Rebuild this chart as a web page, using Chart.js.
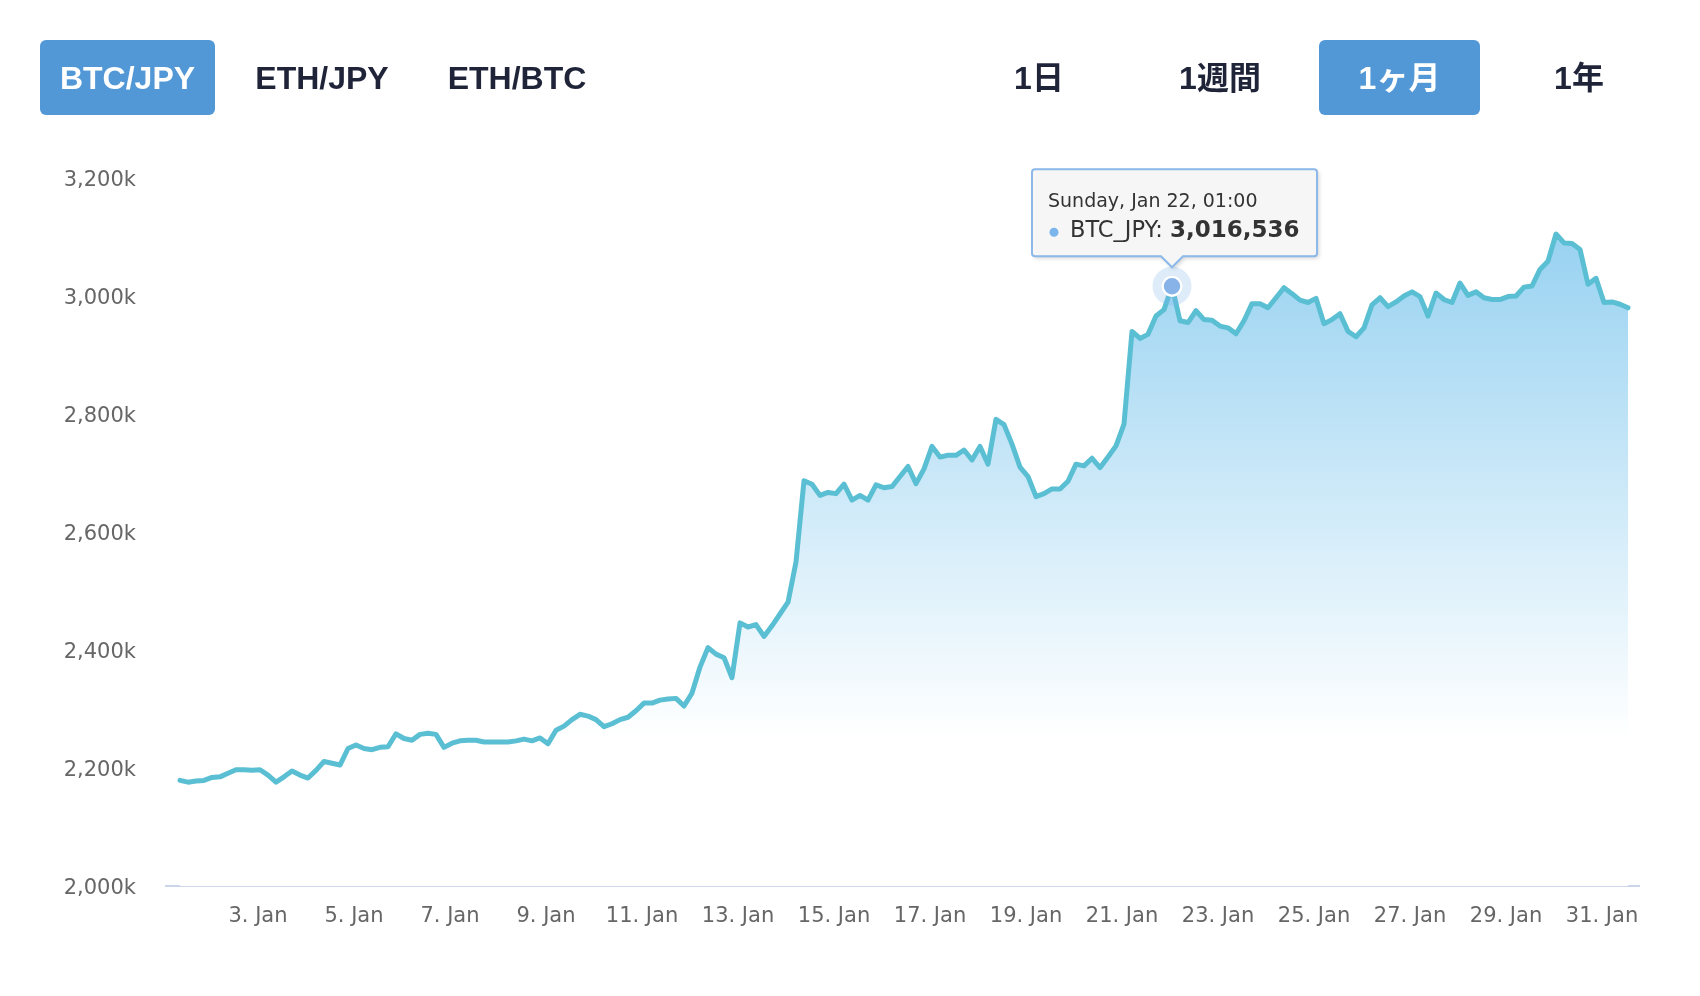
<!DOCTYPE html>
<html>
<head>
<meta charset="utf-8">
<title>BTC/JPY 1ヶ月</title>
<script src="https://cdn.jsdelivr.net/npm/chart.js@4.4.1/dist/chart.umd.min.js"></script>
<style>
  html, body { margin: 0; padding: 0; background: #fff; }
  body { width: 1700px; height: 996px; position: relative; overflow: hidden; }
  #priceChart { position: absolute; left: 0; top: 0; }
  .btn {
    position: absolute; top: 40px; height: 75px; width: 160px;
    display: flex; align-items: center; justify-content: center;
    color: #1f2438; border-radius: 6px;
    font: bold 32px "Liberation Sans", "Noto Sans CJK JP", sans-serif;
  }
  .btn span { position: relative; top: 1px; }
  .btn span.ja { top: -3px; }
  .btn.active { background: #5298d6; color: #fff; }
</style>
</head>
<body>
<canvas id="priceChart" width="1700" height="996"></canvas>

<div class="btn active" style="left:40px;width:175px"><span>BTC/JPY</span></div>
<div class="btn" style="left:242px"><span>ETH/JPY</span></div>
<div class="btn" style="left:437px"><span>ETH/BTC</span></div>
<div class="btn" style="left:959px"><span class="ja">1日</span></div>
<div class="btn" style="left:1140px"><span class="ja">1週間</span></div>
<div class="btn active" style="left:1319px;width:161px"><span class="ja">1ヶ月</span></div>
<div class="btn" style="left:1499px"><span class="ja">1年</span></div>

<script>
// BTC/JPY, one sample every 4 hours starting Jan 1 09:00 (values in thousand yen)
const seriesName = 'BTC_JPY';
const startHour = 9;
const stepHours = 4;
const btcJpy = [
    2179, 2176, 2178, 2179, 2184, 2185, 2191, 2197, 2197, 2196,
    2197, 2188, 2176, 2185, 2195, 2188, 2183, 2196, 2211, 2208,
    2205, 2233, 2239, 2233, 2231, 2235, 2236, 2258, 2250, 2247,
    2257, 2259, 2257, 2235, 2242, 2246, 2247, 2247, 2244, 2244,
    2244, 2244, 2246, 2249, 2246, 2251, 2241, 2264, 2271, 2282,
    2291, 2288, 2282, 2270, 2275, 2282, 2286, 2297, 2310, 2310,
    2315, 2317, 2318, 2305, 2327, 2371, 2404, 2393, 2387, 2353,
    2446, 2439, 2443, 2423, 2441, 2461, 2481, 2549, 2687, 2681,
    2662, 2667, 2665, 2681, 2654, 2662, 2654, 2680, 2675, 2677,
    2694, 2711, 2682, 2707, 2745, 2727, 2730, 2730, 2739, 2722,
    2745, 2715, 2791, 2782, 2749, 2710, 2694, 2660, 2665, 2673,
    2673, 2686, 2715, 2712, 2725, 2709, 2727, 2746, 2783, 2940,
    2928, 2935, 2966, 2977, 3016.536, 2958, 2955, 2975, 2960, 2959,
    2949, 2946, 2936, 2958, 2987, 2987, 2980, 2997, 3014, 3004,
    2993, 2989, 2996, 2953, 2960, 2970, 2940, 2931, 2946, 2985,
    2997, 2982, 2990, 3000, 3007, 2999, 2966, 3005, 2994, 2989,
    3022, 3001, 3007, 2997, 2994, 2994, 2999, 3000, 3015, 3017,
    3045, 3059, 3105, 3090, 3089, 3079, 3020, 3030, 2989, 2990,
    2986, 2980
];

// x axis ticks: hours since Jan 1 00:00
const tickHours = [48, 96, 144, 192, 240, 288, 336, 384, 432, 480, 528, 576, 624, 672, 720];
const tickLabels = ['3. Jan', '5. Jan', '7. Jan', '9. Jan', '11. Jan', '13. Jan', '15. Jan', '17. Jan',
    '19. Jan', '21. Jan', '23. Jan', '25. Jan', '27. Jan', '29. Jan', '31. Jan'];

// hovered point shown in the tooltip
const tipIndex = 124;
const tipTitle = 'Sunday, Jan 22, 01:00';

const axisFont = { family: 'DejaVu Sans', size: 21 };

function areaGradient(context) {
    const { chart } = context;
    const { ctx, chartArea, scales } = chart;
    if (!chartArea) return null;
    const top = scales.y.getPixelForValue(Math.max(...btcJpy));
    const bottom = scales.y.getPixelForValue(2250);
    const g = ctx.createLinearGradient(0, top, 0, bottom);
    g.addColorStop(0, 'rgb(152,210,241)');
    g.addColorStop(1, 'rgb(255,255,255)');
    return g;
}

// Draws the halo around the hovered point and the fixed tooltip box
const fixedTooltip = {
    id: 'fixedTooltip',
    afterDatasetsDraw(chart) {
        const pt = chart.getDatasetMeta(0).data[tipIndex];
        const ctx = chart.ctx;
        ctx.save();
        ctx.beginPath();
        ctx.arc(pt.x, pt.y, 15, 0, Math.PI * 2);
        ctx.lineWidth = 9;
        ctx.strokeStyle = 'rgba(124,181,236,0.25)';
        ctx.stroke();
        ctx.restore();
    },
    afterDraw(chart) {
        const pt = chart.getDatasetMeta(0).data[tipIndex];
        const ctx = chart.ctx;
        const w = 285, h = 87, r = 3;
        const left = pt.x - 140, top = pt.y - 117;
        const bottom = top + h, right = left + w;
        const tipY = pt.y - 19;

        ctx.save();
        ctx.beginPath();
        ctx.moveTo(left + r, top);
        ctx.lineTo(right - r, top);
        ctx.quadraticCurveTo(right, top, right, top + r);
        ctx.lineTo(right, bottom - r);
        ctx.quadraticCurveTo(right, bottom, right - r, bottom);
        ctx.lineTo(pt.x + 11, bottom);
        ctx.lineTo(pt.x, tipY);
        ctx.lineTo(pt.x - 11, bottom);
        ctx.lineTo(left + r, bottom);
        ctx.quadraticCurveTo(left, bottom, left, bottom - r);
        ctx.lineTo(left, top + r);
        ctx.quadraticCurveTo(left, top, left + r, top);
        ctx.closePath();

        ctx.shadowColor = 'rgba(0,0,0,0.18)';
        ctx.shadowBlur = 4;
        ctx.shadowOffsetX = 2;
        ctx.shadowOffsetY = 2;
        ctx.fillStyle = 'rgba(247,247,247,0.97)';
        ctx.fill();
        ctx.shadowColor = 'transparent';
        ctx.lineWidth = 2;
        ctx.strokeStyle = '#8cb8ea';
        ctx.stroke();

        ctx.textBaseline = 'middle';
        ctx.fillStyle = '#333';
        ctx.font = '19px "DejaVu Sans"';
        ctx.fillText(tipTitle, left + 16, top + 33);

        const y2 = top + 62;
        ctx.beginPath();
        ctx.arc(left + 22, y2 + 1, 4.5, 0, Math.PI * 2);
        ctx.fillStyle = '#7cb5ec';
        ctx.fill();

        ctx.fillStyle = '#333';
        ctx.font = '22.5px "DejaVu Sans"';
        const label = seriesName + ': ';
        ctx.fillText(label, left + 38, y2);
        const lw = ctx.measureText(label).width;
        ctx.font = 'bold 23px "DejaVu Sans"';
        const value = Math.round(btcJpy[tipIndex] * 1000).toLocaleString('en-US');
        ctx.fillText(value, left + 38 + lw, y2);
        ctx.restore();
    }
};

document.addEventListener('DOMContentLoaded', () => {
    const points = btcJpy.map((v, i) => ({ x: startHour + i * stepHours, y: v }));
    const ctx = document.getElementById('priceChart').getContext('2d');
    new Chart(ctx, {
        type: 'line',
        data: {
            datasets: [{
                label: seriesName,
                data: points,
                borderColor: '#5bbfd3',
                borderWidth: 5,
                borderJoinStyle: 'round',
                borderCapStyle: 'round',
                tension: 0,
                fill: 'start',
                backgroundColor: areaGradient,
                pointRadius: c => (c.dataIndex === tipIndex ? 9.5 : 0),
                pointHoverRadius: c => (c.dataIndex === tipIndex ? 9.5 : 0),
                pointBackgroundColor: '#88b3e8',
                pointBorderColor: '#ffffff',
                pointBorderWidth: 2.5
            }]
        },
        options: {
            responsive: false,
            animation: false,
            devicePixelRatio: 1,
            events: [],
            layout: { padding: { top: 178, right: 61, left: 0, bottom: 0 } },
            plugins: {
                legend: { display: false },
                tooltip: { enabled: false }
            },
            scales: {
                x: {
                    type: 'linear',
                    min: 2,
                    max: 738.5,
                    grid: { display: false, drawTicks: false },
                    border: { display: true, color: '#ccd6eb', width: 2 },
                    afterBuildTicks: s => { s.ticks = tickHours.map(v => ({ value: v })); },
                    afterFit: s => { s.height = 110; },
                    ticks: {
                        autoSkip: false,
                        maxRotation: 0,
                        padding: 18,
                        color: '#666',
                        font: axisFont,
                        callback: (v, i) => tickLabels[i]
                    }
                },
                y: {
                    min: 2000,
                    max: 3200,
                    grid: { display: false, drawTicks: false },
                    border: { display: false },
                    afterFit: s => { s.width = 166; },
                    ticks: {
                        stepSize: 200,
                        padding: 30,
                        labelOffset: 3,
                        color: '#666',
                        font: axisFont,
                        callback: v => v.toLocaleString('en-US') + 'k'
                    }
                }
            }
        },
        plugins: [fixedTooltip]
    });
});
</script>
</body>
</html>
